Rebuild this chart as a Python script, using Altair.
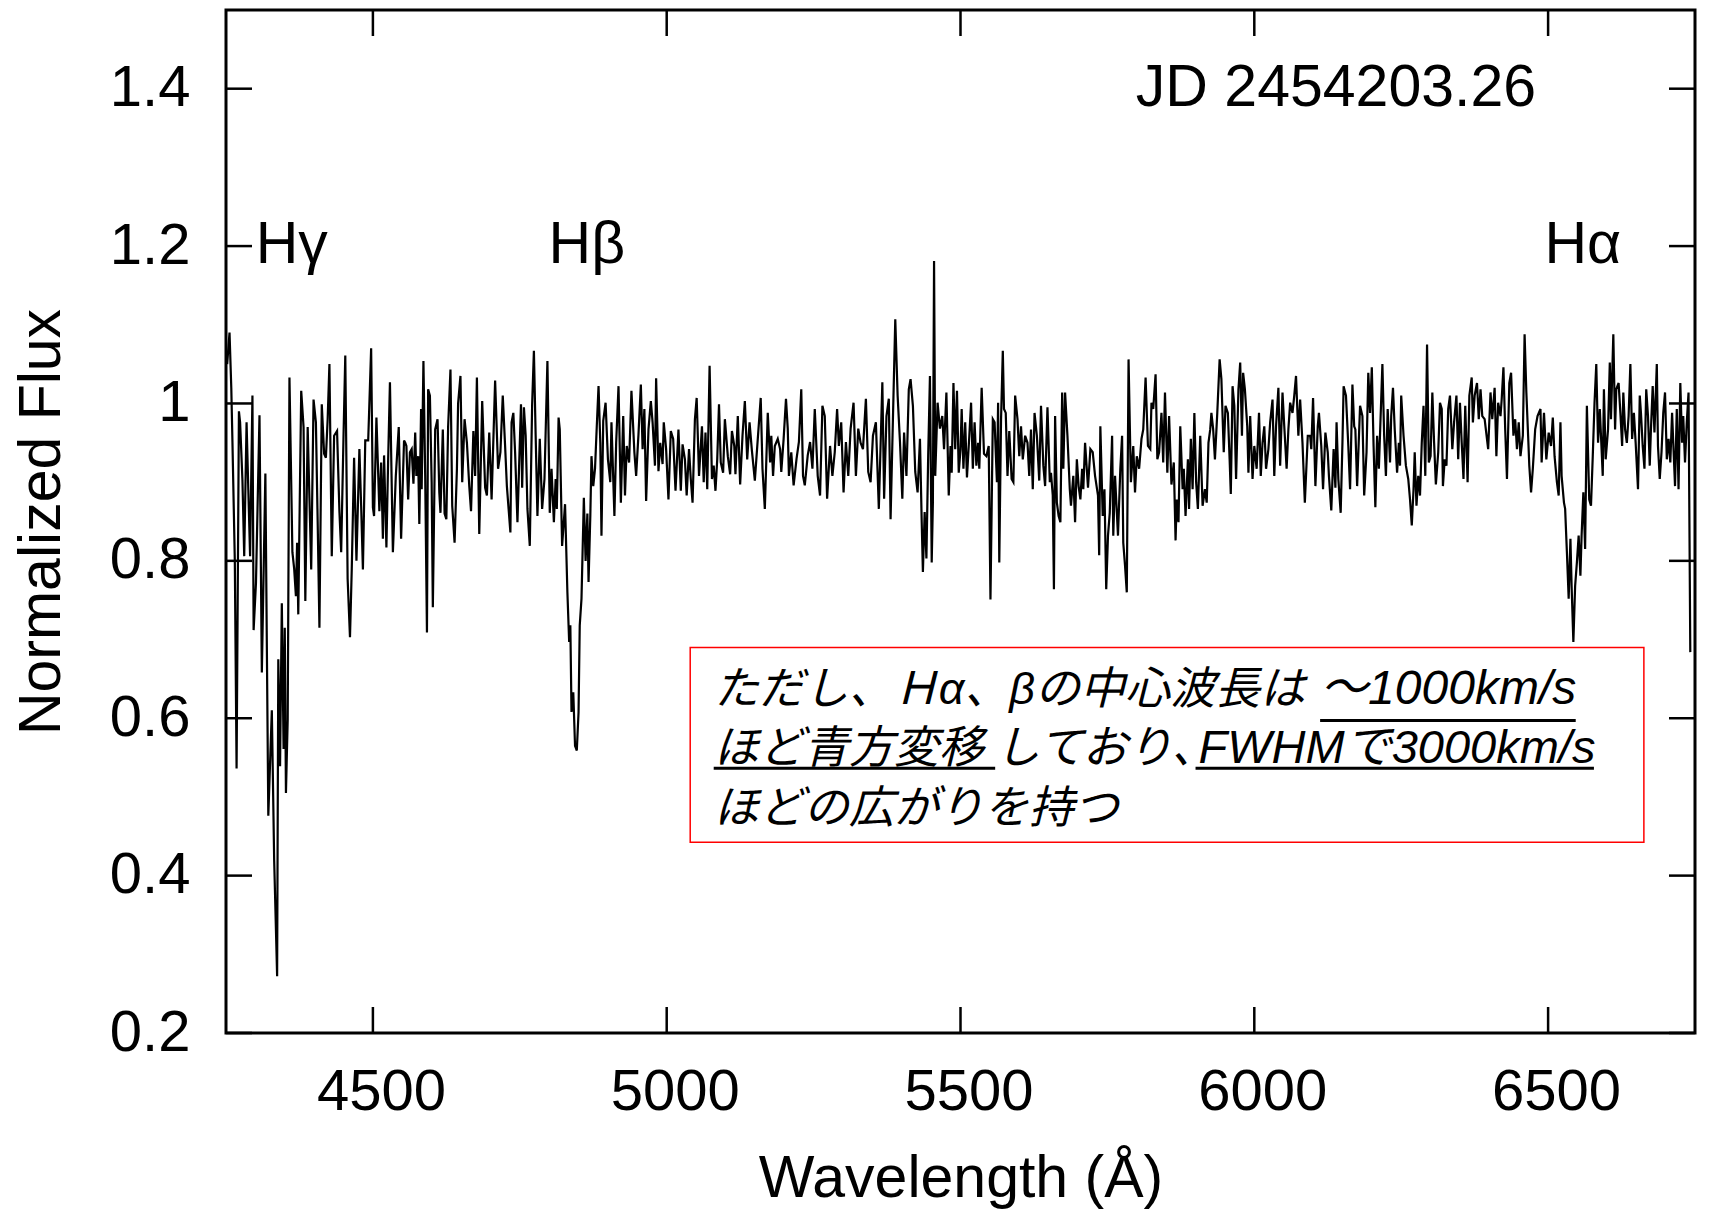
import altair as alt
import pandas as pd

# ---- spectrum: (wavelength in Angstrom, normalized flux) ----
seg_hgamma = [
    (4252, 1.05), (4256, 1.09), (4259, 1.02), (4261, 0.95), (4265, 0.80), (4268, 0.536),
    (4272, 0.99), (4274, 0.976), (4278, 0.902), (4281, 0.806), (4285, 0.976), (4288, 0.89),
    (4291, 0.806), (4295, 1.01), (4297, 0.712), (4301, 0.772), (4307, 0.985), (4311, 0.658),
    (4317, 0.911), (4322, 0.476), (4328, 0.61), (4332, 0.419), (4337, 0.272), (4339, 0.675),
    (4342, 0.539), (4345, 0.746), (4348, 0.561), (4350, 0.715), (4352, 0.505), (4355, 0.598),
    (4358, 1.033), (4363, 0.811), (4366, 0.79), (4369, 0.755), (4371, 0.823), (4373, 0.732),
    (4378, 1.016), (4382, 0.97), (4385, 0.749), (4389, 0.97), (4392, 0.88), (4395, 0.789),
    (4399, 1.005), (4403, 0.976), (4406, 0.85), (4409, 0.715), (4413, 0.999), (4417, 0.936),
    (4420, 0.931), (4423, 0.98), (4426, 1.05), (4430, 0.806), (4434, 0.959), (4439, 0.965),
    (4443, 0.863), (4446, 0.811), (4450, 0.959), (4453, 1.061), (4457, 0.777), (4461, 0.703),
    (4464, 0.789), (4468, 0.931), (4472, 0.8), (4477, 0.942), (4480, 0.87), (4483, 0.789),
    (4487, 0.953), (4492, 0.953), (4497, 1.07), (4500, 0.868), (4502, 0.857), (4506, 0.982),
    (4511, 0.863), (4514, 0.925), (4517, 0.828), (4519, 0.934), (4523, 0.817), (4526, 0.93),
    (4529, 1.027), (4534, 0.811), (4539, 0.908), (4544, 0.97), (4548, 0.828), (4553, 0.953),
]

seg_hbeta = [
    (4555, 0.95), (4557, 0.946), (4560, 0.878), (4563, 0.938), (4566, 0.942), (4569, 0.898),
    (4572, 0.963), (4574, 0.908), (4577, 0.933), (4579, 0.847), (4582, 0.993), (4583, 0.891),
    (4586, 1.054), (4589, 0.908), (4592, 0.709), (4594, 1.018), (4597, 1.01), (4600, 0.9),
    (4602, 0.741), (4606, 0.967), (4610, 0.98), (4613, 0.887), (4615, 0.861), (4619, 0.967),
    (4622, 0.86), (4625, 0.853), (4628, 0.97), (4632, 1.043), (4635, 0.87), (4639, 0.823),
    (4643, 0.917), (4645, 1.0), (4649, 1.035), (4652, 0.9), (4656, 0.98), (4660, 0.95),
    (4664, 0.895), (4667, 0.863), (4671, 0.965), (4674, 0.908), (4677, 1.033), (4681, 0.834),
    (4686, 1.003), (4691, 0.893), (4694, 0.883), (4698, 0.963), (4702, 0.878), (4708, 1.029),
    (4713, 0.917), (4717, 0.938), (4721, 1.01), (4725, 0.946), (4728, 0.895), (4734, 0.836),
    (4736, 0.976), (4739, 0.988), (4742, 0.938), (4746, 0.849), (4749, 0.925), (4752, 0.999),
    (4754, 0.893), (4757, 0.995), (4760, 0.959), (4763, 0.866), (4767, 0.819), (4771, 0.999),
    (4774, 1.067), (4777, 0.959), (4780, 0.857), (4784, 0.955), (4788, 0.866), (4792, 0.904),
    (4797, 1.054), (4801, 0.861), (4804, 0.917), (4808, 0.849), (4811, 0.904), (4813, 0.866),
    (4816, 0.982), (4818, 0.967), (4822, 0.819), (4827, 0.872), (4831, 0.76), (4834, 0.697),
    (4836, 0.718), (4838, 0.608), (4841, 0.633), (4844, 0.565), (4847, 0.559), (4850, 0.608),
    (4852, 0.718), (4855, 0.752), (4859, 0.88), (4862, 0.80), (4865, 0.86), (4867, 0.773),
]

seg_5000 = [
    (4870, 0.857), (4872, 0.933), (4875, 0.895), (4878, 0.917), (4881, 0.971), (4884, 1.022),
    (4887, 0.95), (4889, 0.832), (4892, 0.978), (4896, 1.001), (4900, 0.929), (4904, 0.9),
    (4906, 0.976), (4911, 0.857), (4914, 0.95), (4918, 1.022), (4922, 0.874), (4926, 0.984),
    (4929, 0.883), (4932, 0.946), (4936, 0.925), (4940, 1.016), (4945, 0.938), (4948, 0.908),
    (4952, 0.961), (4956, 1.024), (4959, 0.942), (4962, 0.993), (4965, 0.876), (4969, 0.967),
    (4973, 1.003), (4976, 0.976), (4980, 0.921), (4982, 1.032), (4986, 0.914), (4989, 0.95),
    (4993, 0.923), (4995, 0.976), (4999, 0.942), (5003, 0.878), (5007, 0.965), (5011, 0.955),
    (5015, 0.889), (5020, 0.967), (5024, 0.889), (5027, 0.948), (5031, 0.929), (5034, 0.883),
    (5038, 0.942), (5041, 0.904), (5044, 0.874), (5048, 0.98), (5051, 1.007), (5055, 0.908),
    (5060, 0.971), (5063, 0.9), (5066, 0.963), (5069, 0.891), (5073, 1.048), (5077, 0.904),
    (5080, 0.921), (5083, 0.889), (5086, 0.929), (5089, 0.999), (5092, 0.925), (5096, 0.912),
    (5099, 0.98), (5104, 0.933), (5108, 0.91), (5111, 0.965), (5115, 0.946), (5117, 0.91),
    (5121, 0.984), (5125, 0.897), (5129, 0.959), (5133, 1.003), (5137, 0.929), (5141, 0.976),
    (5145, 0.94), (5150, 0.902), (5155, 0.955), (5160, 1.007), (5163, 0.917), (5167, 0.866),
    (5172, 0.988),
]

seg_5300 = [
    (5176, 0.925), (5178, 0.959), (5181, 0.908), (5184, 0.946), (5189, 0.955), (5193, 0.942),
    (5195, 0.913), (5199, 0.955), (5203, 1.006), (5206, 0.968), (5208, 0.908), (5212, 0.938),
    (5216, 0.896), (5221, 0.93), (5225, 0.951), (5229, 1.018), (5232, 0.908), (5235, 0.896),
    (5240, 0.934), (5244, 0.951), (5248, 0.917), (5252, 0.993), (5257, 0.908), (5261, 0.883),
    (5265, 0.997), (5269, 0.984), (5273, 0.879), (5278, 0.946), (5282, 0.908), (5286, 0.938),
    (5290, 0.993), (5293, 0.946), (5297, 0.976), (5301, 0.887), (5305, 0.951), (5309, 0.908),
    (5313, 0.968), (5318, 1.001), (5322, 0.908), (5326, 0.968), (5330, 0.95), (5334, 0.942),
    (5339, 1.006), (5343, 0.913), (5347, 0.9), (5351, 0.959), (5356, 0.976), (5361, 0.866),
    (5367, 1.027), (5370, 0.879), (5374, 0.984), (5378, 1.006), (5381, 0.853), (5385, 0.98),
    (5389, 1.107), (5393, 1.01), (5397, 0.951), (5401, 0.879), (5404, 0.963), (5408, 0.908),
    (5412, 1.018), (5415, 1.031), (5419, 0.997), (5423, 0.913), (5427, 0.887), (5431, 0.955),
    (5434, 0.849), (5436, 0.786), (5439, 0.862), (5442, 0.803), (5445, 0.934), (5448, 1.035),
    (5451, 0.798), (5453, 0.874), (5455, 1.181), (5457, 0.908), (5461, 1.001), (5465, 0.968),
    (5469, 0.984), (5472, 0.942), (5476, 1.014),
]

seg_5600 = [
    (5480, 0.883), (5483, 0.946), (5485, 0.912), (5488, 1.026), (5491, 0.942), (5494, 1.016),
    (5497, 0.912), (5500, 0.942), (5502, 0.993), (5505, 0.917), (5508, 0.976), (5511, 0.906),
    (5515, 0.959), (5518, 1.001), (5521, 0.917), (5524, 0.976), (5527, 0.921), (5530, 0.95),
    (5532, 0.917), (5536, 1.02), (5540, 0.936), (5544, 0.933), (5548, 0.946), (5551, 0.751),
    (5555, 0.98), (5558, 0.976), (5562, 0.9), (5564, 1.001), (5566, 0.798), (5569, 0.98),
    (5572, 1.067), (5574, 0.993), (5577, 0.988), (5580, 0.908), (5583, 0.965), (5587, 0.904),
    (5590, 0.9), (5593, 1.01), (5597, 0.98), (5600, 0.933), (5603, 0.971), (5606, 0.929),
    (5610, 0.959), (5614, 0.95), (5617, 0.908), (5620, 0.967), (5623, 0.891), (5626, 0.988),
    (5630, 0.959), (5634, 0.902), (5637, 0.997), (5641, 0.921), (5644, 0.895), (5648, 0.995),
    (5652, 0.9), (5654, 0.912), (5657, 0.883), (5659, 0.764), (5661, 0.984), (5664, 0.874),
    (5667, 0.857), (5670, 0.849), (5673, 1.014), (5675, 0.917), (5678, 1.014), (5682, 0.959),
    (5686, 0.891), (5688, 0.87), (5692, 0.908), (5695, 0.849), (5698, 0.929), (5701, 0.895),
    (5704, 0.878), (5707, 0.917), (5709, 0.891), (5712, 0.95), (5717, 0.893), (5721, 0.942),
    (5725, 0.938), (5729, 0.908), (5734, 0.883), (5736, 0.807), (5738, 0.971), (5742, 0.857),
    (5745, 0.891), (5748, 0.764), (5751, 0.832), (5754, 0.861), (5758, 0.959), (5760, 0.832),
    (5763, 0.908), (5768, 0.832), (5772, 0.917), (5775, 0.959), (5777, 0.823), (5780, 0.794),
    (5783, 0.76), (5786, 1.056),
]

seg_5900 = [
    (5790, 0.9), (5794, 0.946), (5797, 0.887), (5800, 0.933), (5804, 0.917), (5808, 0.955),
    (5811, 0.967), (5815, 1.033), (5819, 0.946), (5823, 0.942), (5825, 1.001), (5828, 0.993),
    (5832, 1.037), (5835, 0.929), (5838, 0.938), (5842, 0.988), (5845, 0.925), (5848, 1.014),
    (5852, 0.912), (5855, 0.984), (5859, 0.897), (5863, 0.925), (5866, 0.826), (5868, 0.878),
    (5871, 0.849), (5874, 0.971), (5878, 0.891), (5880, 0.917), (5883, 0.857), (5887, 0.929),
    (5889, 0.866), (5892, 0.955), (5895, 0.891), (5898, 0.988), (5901, 0.9), (5904, 0.866),
    (5908, 0.959), (5912, 0.87), (5916, 0.891), (5919, 0.874), (5922, 0.95), (5925, 0.967),
    (5927, 0.988), (5930, 0.967), (5933, 0.929), (5937, 0.988), (5941, 1.056), (5944, 1.031),
    (5948, 0.938), (5951, 0.997), (5955, 0.988), (5958, 0.929), (5960, 0.885), (5963, 1.022),
    (5966, 0.997), (5969, 0.904), (5973, 1.018), (5976, 1.052), (5979, 0.959), (5981, 1.039),
    (5984, 1.018), (5988, 0.971), (5990, 0.912), (5993, 0.984), (5997, 0.904), (6000, 0.946),
    (6004, 0.917), (6008, 0.988), (6011, 0.908), (6014, 0.95), (6017, 0.971), (6020, 0.917),
    (6024, 0.942), (6027, 0.976), (6031, 1.005), (6034, 0.908), (6037, 0.971), (6041, 1.02),
    (6044, 0.921), (6048, 1.014), (6051, 0.971), (6055, 0.917), (6058, 0.967), (6061, 1.001),
    (6065, 0.988), (6068, 1.01), (6071, 1.035), (6075, 0.959), (6078, 1.005), (6082, 0.95),
    (6086, 0.874), (6091, 0.959),
]

seg_6200 = [
    (6095, 0.959), (6097, 0.942), (6100, 1.007), (6104, 0.895), (6108, 0.971), (6110, 0.988),
    (6114, 0.946), (6117, 0.891), (6121, 0.963), (6125, 0.938), (6127, 0.908), (6131, 0.864),
    (6135, 0.942), (6138, 0.893), (6140, 0.976), (6143, 0.904), (6147, 0.861), (6150, 0.95),
    (6152, 1.022), (6156, 1.01), (6160, 0.946), (6163, 0.891), (6167, 1.024), (6170, 0.971),
    (6172, 0.967), (6175, 0.895), (6180, 0.997), (6184, 0.984), (6187, 0.883), (6191, 0.938),
    (6194, 1.039), (6197, 0.988), (6200, 1.046), (6203, 0.946), (6206, 0.868), (6209, 0.959),
    (6212, 0.917), (6215, 0.984), (6218, 1.05), (6221, 0.959), (6224, 0.908), (6227, 0.993),
    (6231, 0.925), (6233, 0.984), (6236, 1.02), (6239, 0.967), (6243, 0.912), (6246, 0.95),
    (6248, 0.921), (6250, 1.01), (6254, 0.959), (6258, 0.921), (6262, 0.904), (6265, 0.878),
    (6268, 0.845), (6271, 0.891), (6273, 0.938), (6276, 0.87), (6279, 0.908), (6282, 0.883),
    (6285, 0.95), (6288, 0.997), (6291, 0.908), (6294, 1.075), (6297, 0.925), (6300, 0.933),
    (6303, 1.014), (6306, 0.95), (6309, 0.897), (6313, 0.938), (6316, 1.001), (6319, 0.993),
    (6321, 0.895), (6324, 0.929), (6327, 0.921), (6330, 0.993), (6333, 1.01), (6337, 0.942),
    (6340, 0.976), (6344, 1.01), (6347, 0.929), (6350, 1.001), (6353, 0.95), (6356, 0.904),
    (6359, 0.997), (6363, 0.9), (6366, 1.01), (6370, 1.033), (6372, 0.976), (6375, 1.01),
    (6379, 1.026), (6382, 0.98), (6385, 1.018), (6388, 0.984), (6392, 0.98),
]

seg_halpha = [
    (6398, 0.942), (6402, 1.014), (6405, 0.98), (6409, 1.02), (6412, 0.933), (6415, 1.001),
    (6419, 0.984), (6421, 1.005), (6424, 1.046), (6427, 0.967), (6430, 0.904), (6434, 1.026),
    (6437, 1.039), (6441, 0.959), (6444, 0.98), (6447, 0.942), (6450, 0.976), (6453, 0.933),
    (6457, 0.959), (6460, 1.088), (6463, 1.014), (6466, 0.959), (6468, 0.921), (6471, 0.887),
    (6474, 0.917), (6478, 0.967), (6482, 0.984), (6487, 0.993), (6489, 0.925), (6493, 0.988),
    (6497, 0.929), (6501, 0.963), (6505, 0.946), (6508, 0.982), (6511, 0.933), (6515, 0.9),
    (6518, 0.883), (6521, 0.976), (6523, 0.908), (6527, 0.874), (6529, 0.866), (6532, 0.811),
    (6535, 0.752), (6538, 0.828), (6540, 0.768), (6543, 0.697), (6546, 0.768), (6549, 0.798),
    (6552, 0.832), (6555, 0.781), (6557, 0.832), (6560, 0.887), (6563, 0.815), (6566, 0.997),
    (6570, 0.878), (6573, 0.87), (6576, 0.933), (6579, 1.001), (6582, 1.05), (6585, 0.95),
    (6588, 0.993), (6590, 0.959), (6593, 0.908), (6595, 1.018), (6598, 0.929), (6602, 0.967),
    (6605, 1.052), (6607, 0.98), (6611, 1.088), (6614, 0.967), (6616, 1.018), (6620, 1.026),
    (6623, 0.988), (6626, 0.946), (6628, 1.014), (6631, 0.967), (6634, 0.95), (6637, 0.984),
    (6640, 1.05), (6643, 0.955), (6646, 0.988), (6649, 0.95), (6653, 0.891), (6656, 1.01),
    (6658, 0.988), (6661, 0.946), (6664, 0.917), (6667, 1.018), (6670, 0.984), (6673, 0.921),
    (6675, 0.967), (6678, 1.022), (6681, 0.963), (6685, 1.05), (6687, 0.946), (6690, 0.904),
    (6693, 0.938), (6696, 0.988), (6699, 1.014), (6702, 0.929), (6705, 0.955), (6708, 0.925),
    (6711, 0.988), (6713, 0.95), (6716, 0.895), (6719, 0.993), (6722, 0.891), (6725, 1.026),
    (6728, 0.95), (6730, 0.984), (6733, 0.925), (6736, 0.976), (6739, 1.014), (6742, 0.684),
]

# ---- axes ----
x_ticks = [4500, 5000, 5500, 6000, 6500]
y_ticks = [0.2, 0.4, 0.6, 0.8, 1.0, 1.2, 1.4]
x_domain = [4250, 6750]
y_domain = [0.2, 1.5]

# ---- labels ----
line_labels = ["H\u03b3", "H\u03b2", "H\u03b1"]
line_label_wl = [4362, 4864, 6559]
line_label_flux = [1.178, 1.178, 1.178]
jd_label = "JD 2454203.26"

note_parts = ["ただし、Ｈα、βの中心波長は", "～1000km/s", "ほど青方変移", "しており\uff64",
              "FWHMで3000km/s", "ほどの広がりを持つ"]
note_wl = [5080, 6112, 5080, 5559, 5905, 5080]
note_flux = [0.636, 0.636, 0.561, 0.561, 0.561, 0.485]
note_size = [45, 48, 45, 45, 47, 45]
underline_wl = [6112, 5080, 5900]
underline_wl2 = [6547, 5559, 6578]
underline_flux = [0.597, 0.5365, 0.5365]
box_wl, box_wl2, box_flux, box_flux2 = 5040, 6663, 0.690, 0.4425

W, H = 1469, 1023
FONT = "Liberation Sans"

spec = pd.DataFrame(
    seg_hgamma + seg_hbeta + seg_5000 + seg_5300 + seg_5600 + seg_5900 + seg_6200 + seg_halpha,
    columns=["wl", "flux"],
)

xscale = alt.Scale(domain=x_domain, nice=False, zero=False)
yscale = alt.Scale(domain=y_domain, nice=False, zero=False)
xaxis = alt.Axis(values=x_ticks, format="d", ticks=False, domain=False, grid=False,
                 labelFontSize=58, labelFont=FONT, labelColor="black", labelPadding=30,
                 labelOffset=8,
                 title="Wavelength (Å)", titleFontSize=59, titleFont=FONT,
                 titleFontWeight="normal", titleColor="black", titlePadding=28)
yaxis = alt.Axis(values=y_ticks, format="~g", ticks=False, domain=False, grid=False,
                 labelFontSize=58, labelFont=FONT, labelColor="black", labelPadding=36,
                 title="Normalized Flux", titleFontSize=59, titleFont=FONT,
                 titleFontWeight="normal", titleColor="black", titlePadding=38)


def X(field="wl"):
    return alt.X(f"{field}:Q", scale=xscale, axis=xaxis, title="Wavelength (Å)")


def Y(field="flux"):
    return alt.Y(f"{field}:Q", scale=yscale, axis=yaxis, title="Normalized Flux")


line = alt.Chart(spec).mark_line(color="black", strokeWidth=2.2, clip=True).encode(x=X(), y=Y())

ydf = pd.DataFrame({"flux": y_ticks})
xdf = pd.DataFrame({"wl": x_ticks})
tick_len = 26
yt_left = alt.Chart(ydf).mark_rule(color="black", strokeWidth=2.5).encode(
    y=Y(), x=alt.value(0), x2=alt.value(tick_len))
yt_right = alt.Chart(ydf).mark_rule(color="black", strokeWidth=2.5).encode(
    y=Y(), x=alt.value(W - tick_len), x2=alt.value(W))
xt_bottom = alt.Chart(xdf).mark_rule(color="black", strokeWidth=2.5).encode(
    x=X(), y=alt.value(H), y2=alt.value(H - tick_len))
xt_top = alt.Chart(xdf).mark_rule(color="black", strokeWidth=2.5).encode(
    x=X(), y=alt.value(0), y2=alt.value(tick_len))

lbl_df = pd.DataFrame({"wl": line_label_wl, "flux": line_label_flux, "t": line_labels})
lbls = alt.Chart(lbl_df).mark_text(font=FONT, fontSize=59, color="black",
                                   align="center", baseline="alphabetic").encode(
    x=X(), y=Y(), text="t:N")

jd_df = pd.DataFrame({"wl": [6139], "flux": [1.378], "t": [jd_label]})
jd = alt.Chart(jd_df).mark_text(font=FONT, fontSize=59, color="black",
                                align="center", baseline="alphabetic").encode(
    x=X(), y=Y(), text="t:N")

box_df = pd.DataFrame({"wl": [box_wl], "wl2": [box_wl2], "flux": [box_flux], "flux2": [box_flux2]})
box = alt.Chart(box_df).mark_rect(fill="white", stroke="#ff0000", strokeWidth=1.5).encode(
    x=X(), x2="wl2:Q", y=Y(), y2="flux2:Q")

note_df = pd.DataFrame({"wl": note_wl, "flux": note_flux, "t": note_parts, "s": note_size})
note = alt.Chart(note_df).mark_text(font="Liberation Sans, Noto Sans CJK JP",
                                    fontStyle="italic", color="black",
                                    align="left", baseline="middle").encode(
    x=X(), y=Y(), text="t:N", size=alt.Size("s:Q", scale=None, legend=None))

ul_df = pd.DataFrame({"wl": underline_wl, "wl2": underline_wl2, "flux": underline_flux})
ul = alt.Chart(ul_df).mark_rule(color="black", strokeWidth=3).encode(x=X(), x2="wl2:Q", y=Y())

chart = alt.layer(line, yt_left, yt_right, xt_bottom, xt_top, lbls, jd, box, note, ul).properties(
    width=W, height=H, background="white",
    padding={"left": 4, "top": 0, "right": 5, "bottom": 2}
).configure_view(stroke="black", strokeWidth=3)

chart.save("out.html", embed_options={"renderer": "svg", "actions": False})
